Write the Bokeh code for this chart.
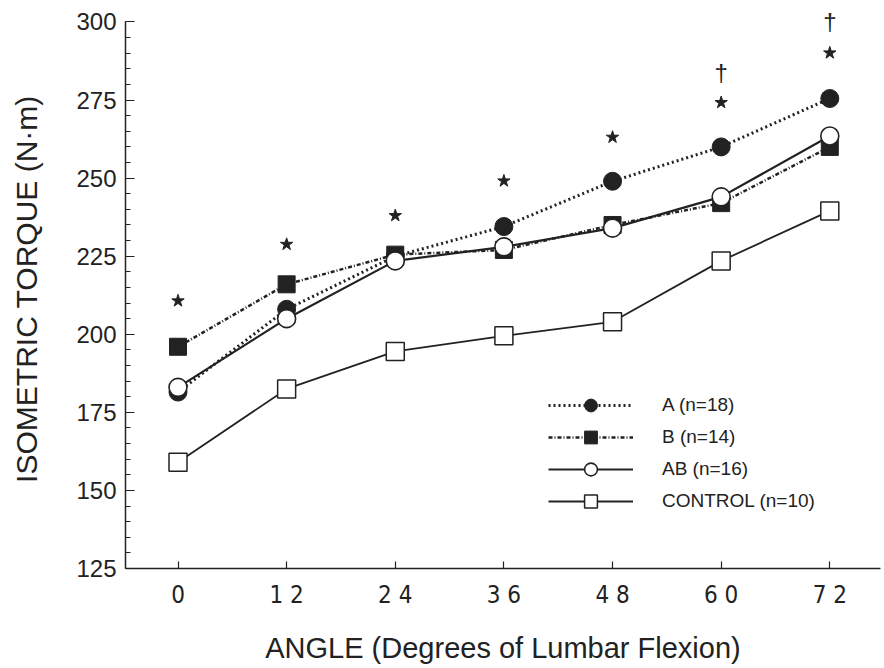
from bokeh.plotting import figure
from bokeh.models import Range1d, FixedTicker, Legend, LegendItem
from bokeh.core.properties import value
from bokeh.embed import file_html
from bokeh.resources import INLINE

# ---- data ----
angles = [0, 12, 24, 36, 48, 60, 72]
x_tick_labels = ["0", "1 2", "2 4", "3 6", "4 8", "6 0", "7 2"]
y_ticks = [125, 150, 175, 200, 225, 250, 275, 300]
y_minor_ticks = list(range(125, 301, 5))

torque_a = [181.5, 208, 225, 234.5, 249, 260, 275.5]
torque_b = [196, 216, 225.5, 227, 235, 242, 260]
torque_ab = [183, 205, 223.5, 228, 234, 244, 263.5]
torque_control = [159, 182.5, 194.5, 199.5, 204, 223.5, 239.5]

star_y = [210.7, 228.8, 238, 249.1, 263.1, 274.2, 290.1]
dagger_x = [60, 72]
dagger_y = [283.7, 300]

labels = ["A (n=18)", "B (n=14)", "AB (n=16)", "CONTROL (n=10)"]

INK = "#222222"
FONT = "Liberation Sans"
NARROW = "'Liberation Sans Narrow', 'DejaVu Sans Condensed', sans-serif"

p = figure(width=882, height=666, output_backend="svg", toolbar_location=None,
           x_range=Range1d(-5.8, 77.6), y_range=Range1d(125, 304),
           min_border_left=125, min_border_right=2, min_border_top=9,
           min_border_bottom=93)
p.outline_line_color = None
p.grid.visible = False
p.background_fill_color = "white"
p.border_fill_color = "white"

# axes
p.xaxis.ticker = FixedTicker(ticks=angles)
p.xaxis.major_label_overrides = {a: t for a, t in zip(angles, x_tick_labels)}
p.xaxis.major_tick_in = 7
p.xaxis.major_tick_out = 0
p.xaxis.minor_tick_line_color = None
p.xaxis.axis_line_width = 1.5
p.xaxis.axis_line_color = INK
p.xaxis.major_tick_line_color = INK
p.xaxis.major_tick_line_width = 1.2
p.xaxis.major_label_text_font = NARROW
p.xaxis.major_label_text_font_size = "24px"
p.xaxis.major_label_text_color = INK
p.xaxis.major_label_standoff = 12
p.xaxis.axis_label = "ANGLE (Degrees of Lumbar Flexion)"
p.xaxis.axis_label_text_font = FONT
p.xaxis.axis_label_text_font_size = "29px"
p.xaxis.axis_label_text_font_style = "normal"
p.xaxis.axis_label_text_color = INK
p.xaxis.axis_label_standoff = 20

p.yaxis.ticker = FixedTicker(ticks=y_ticks, minor_ticks=y_minor_ticks)
p.yaxis.bounds = (125, 300)
p.yaxis.major_tick_in = 9
p.yaxis.major_tick_out = 0
p.yaxis.minor_tick_in = 5
p.yaxis.minor_tick_out = 0
p.yaxis.axis_line_width = 1.5
p.yaxis.axis_line_color = INK
p.yaxis.major_tick_line_color = INK
p.yaxis.minor_tick_line_color = INK
p.yaxis.major_tick_line_width = 1.2
p.yaxis.major_label_text_font = FONT
p.yaxis.major_label_text_font_size = "24px"
p.yaxis.major_label_text_color = INK
p.yaxis.major_label_standoff = 9
p.yaxis.axis_label = "ISOMETRIC TORQUE (N·m)"
p.yaxis.axis_label_text_font = FONT
p.yaxis.axis_label_text_font_size = "30px"
p.yaxis.axis_label_text_font_style = "normal"
p.yaxis.axis_label_text_color = INK
p.yaxis.axis_label_standoff = 30

# series
la = p.line(angles, torque_a, line_color=INK, line_width=3, line_dash="2 3")
lb = p.line(angles, torque_b, line_color=INK, line_width=2.5, line_dash="4 2 1 2")
sa = p.scatter(angles, torque_a, marker="circle", size=18, fill_color=INK, line_color=INK)
sb = p.scatter(angles, torque_b, marker="square", size=17, fill_color=INK, line_color=INK)
lab = p.line(angles, torque_ab, line_color=INK, line_width=2.2)
sab = p.scatter(angles, torque_ab, marker="circle", size=18, fill_color="white",
                line_color=INK, line_width=1.6)
lc = p.line(angles, torque_control, line_color=INK, line_width=1.8)
sc = p.scatter(angles, torque_control, marker="square", size=18, fill_color="white",
               line_color=INK, line_width=1.5)

# significance marks
p.scatter(angles, star_y, marker="star", size=13, fill_color=INK, line_color=INK)
p.text(dagger_x, dagger_y, text=["†", "†"], text_font=value(FONT),
       text_font_size="24px", text_align="center", text_baseline="middle",
       text_color=INK)

legend = Legend(items=[
    LegendItem(label=labels[0], renderers=[la, sa]),
    LegendItem(label=labels[1], renderers=[lb, sb]),
    LegendItem(label=labels[2], renderers=[lab, sab]),
    LegendItem(label=labels[3], renderers=[lc, sc]),
], location=(423, 51), glyph_width=85, glyph_height=32, label_height=20,
    label_standoff=29, spacing=0, padding=0, margin=0,
    border_line_color=None, background_fill_alpha=0,
    label_text_font=FONT, label_text_font_size="19px", label_text_color=INK)
p.add_layout(legend)

open("out.html", "w").write(file_html(p, INLINE))
